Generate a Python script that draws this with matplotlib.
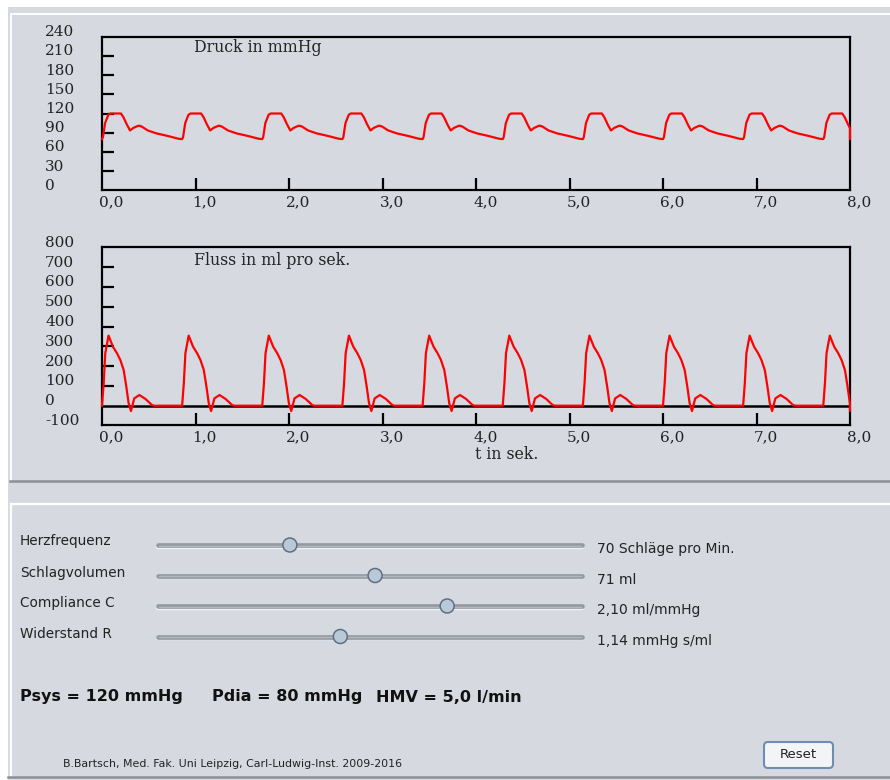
import numpy as np
import matplotlib
matplotlib.use("Agg")
import matplotlib.pyplot as plt
import matplotlib.transforms as mtransforms
from matplotlib.patches import Rectangle, Circle, FancyBboxPatch

# beat onsets (s)
beat_onsets = [0.0, 0.857, 1.714, 2.571, 3.429, 4.286, 5.143, 6.0, 6.857, 7.714]

# one beat of aortic pressure (mmHg), time relative to onset
p_cycle_t = [0.0, 0.01, 0.033, 0.068, 0.09, 0.203, 0.23, 0.265, 0.30, 0.336, 0.39, 0.42, 0.49, 0.58, 0.70, 0.82, 0.857]
p_cycle_v = [80, 83, 105, 118, 120, 120, 114, 103, 93.5, 97.5, 101, 100, 93.5, 89, 85, 80.5, 80]
p_tail_t = [8.0, 8.0]
p_tail_v = [97, 80]

# one beat of flow (ml/s)
q_cycle_t = [0.0, 0.018, 0.035, 0.07, 0.117, 0.16, 0.196, 0.232, 0.26, 0.285, 0.31, 0.345, 0.40, 0.465, 0.535, 0.56, 0.857]
q_cycle_v = [0, 113, 265, 354, 298, 265, 231, 180, 96, 12, -27, 37, 54, 34, 3, 0, 0]
q_tail_t = [8.0]
q_tail_v = [-25]

p_ticks = [0, 30, 60, 90, 120, 150, 180, 210, 240]
q_ticks = [-100, 0, 100, 200, 300, 400, 500, 600, 700, 800]
t_ticks = [0, 1, 2, 3, 4, 5, 6, 7, 8]

slider_names = ["Herzfrequenz", "Schlagvolumen", "Compliance C", "Widerstand R"]
slider_texts = ["70 Schläge pro Min.", "71 ml", "2,10 ml/mmHg", "1,14 mmHg s/ml"]
slider_pos = [0.311, 0.512, 0.682, 0.430]

results = ["Psys = 120 mmHg", "Pdia = 80 mmHg", "HMV = 5,0 l/min"]


def build(t_cyc, v_cyc, tail_t, tail_v):
    tt, vv = [], []
    for on in beat_onsets:
        for dt, v in zip(t_cyc[:-1], v_cyc[:-1]):
            if on + dt <= 8.0:
                tt.append(on + dt)
                vv.append(v)
    return np.array(tt + tail_t), np.array(vv + tail_v)


t_p, p = build(p_cycle_t, p_cycle_v, p_tail_t, p_tail_v)
t_q, q = build(q_cycle_t, q_cycle_v, q_tail_t, q_tail_v)

W, H = 890, 780
panel = '#d6d9e0'
fig = plt.figure(figsize=(W / 100, H / 100), dpi=100, facecolor=panel)

# background / panel decoration in pixel coords
ov = fig.add_axes([0, 0, 1, 1], zorder=0)
ov.set_xlim(0, W)
ov.set_ylim(H, 0)
ov.axis('off')
ov.add_patch(Rectangle((0, 0), W, 7, fc='white', ec='none'))
ov.add_patch(Rectangle((0, 0), 8, H, fc='white', ec='none'))
ov.plot([11, W], [14, 14], color='white', lw=1.4)
ov.plot([11, 11], [14, 480], color='white', lw=1.4)
ov.plot([10, W], [481, 481], color='#8c8f94', lw=1.8)
ov.plot([11, W], [504, 504], color='white', lw=1.6)
ov.plot([11, 11], [504, 776], color='white', lw=1.6)
ov.plot([8, W], [777, 777], color='#8c8f94', lw=1.8)

serif = 'DejaVu Serif'
sans = 'DejaVu Sans'


def chart(rect, t, y, ylim, yticks, title, title_y):
    ax = fig.add_axes(rect, zorder=1)
    ax.set_facecolor('none')
    ax.set_xlim(0, 8)
    ax.set_ylim(ylim)
    for s in ax.spines.values():
        s.set_linewidth(1.6)
        s.set_color('black')
    ax.set_xticks(t_ticks[1:-1])
    ax.set_yticks([v for v in yticks[1:-1] if v != 0])
    ax.tick_params(direction='in', length=8.6, width=1.6, labelbottom=False, labelleft=False)
    ax.plot(t, y, color='red', lw=1.6, zorder=3, clip_on=False)
    ty = mtransforms.blended_transform_factory(ax.transAxes, ax.transData) + \
        mtransforms.ScaledTranslation(0, 0.045, fig.dpi_scale_trans)
    for v in yticks:
        ax.text(-57 / 748, v, str(v), transform=ty, ha='left', va='center',
                family=serif, fontsize=11, color='#222222')
    tx = mtransforms.blended_transform_factory(ax.transData, ax.transAxes) + \
        mtransforms.ScaledTranslation(-0.03, -0.115, fig.dpi_scale_trans)
    for v in t_ticks:
        ax.text(v, 0, f"{v:.1f}".replace('.', ','), transform=tx, ha='left', va='center',
                family=serif, fontsize=11, color='#222222')
    ax.text(92 / 748, title_y, title, transform=ax.transAxes, ha='left', va='center',
            family=serif, fontsize=11.3, color='#222222')
    return ax


ax1 = chart([102 / W, 1 - 190.3 / H, 748 / W, 153.6 / H], t_p, p, (0, 240), p_ticks,
            "Druck in mmHg", 0.928)
ax2 = chart([102 / W, 1 - 425.5 / H, 748 / W, 178.2 / H], t_q, q, (-100, 800), q_ticks,
            "Fluss in ml pro sek.", 0.925)
ax2.axhline(0, color='black', lw=1.8, zorder=2)
ax2.text(0.541, -0.165, "t in sek.", transform=ax2.transAxes, ha='center', va='center',
         family=serif, fontsize=11.3, color='#222222')

# slider block
x0, x1 = 158, 582
label_y = [541.5, 572.5, 603.5, 634]
track_y = [545, 575.5, 606, 636.5]
for name, txt, pos, ly, ty_ in zip(slider_names, slider_texts, slider_pos, label_y, track_y):
    ov.text(20, ly, name, family=sans, fontsize=9.8, ha='left', va='center', color='#222222')
    ov.plot([x0, x1], [ty_ + 1.5, ty_ + 1.5], color='#f0f1f4', lw=3.2, solid_capstyle='round')
    ov.plot([x0, x1], [ty_, ty_], color='#959aa2', lw=3.4, solid_capstyle='round')
    ov.plot([x0 + 1, x1 - 1], [ty_ + 0.8, ty_ + 0.8], color='#b4b8bf', lw=1.0, solid_capstyle='round')
    ov.add_patch(Circle((x0 + pos * (x1 - x0), ty_), 7, fc='#b9c9d8', ec='#5d6f82', lw=1.1, zorder=5))
    ov.text(597, ty_ + 4, txt, family=sans, fontsize=10, ha='left', va='center', color='#222222')

for txt, xx in zip(results, [20, 212, 376]):
    ov.text(xx, 697, txt, family=sans, fontsize=11.5, fontweight='bold', ha='left', va='center',
            color='#111111')

ov.text(63, 764, "B.Bartsch, Med. Fak. Uni Leipzig, Carl-Ludwig-Inst. 2009-2016", family=sans,
        fontsize=7.9, ha='left', va='center', color='#222222')

ov.add_patch(FancyBboxPatch((764, 742), 69, 26, boxstyle='round,pad=0,rounding_size=4',
                            fc='#f3f4f6', ec='#6f8db3', lw=1.5))
ov.text(798.5, 755, "Reset", family=sans, fontsize=9.6, ha='center', va='center', color='#222222')

fig.savefig('out.png', dpi=100, facecolor=panel)
